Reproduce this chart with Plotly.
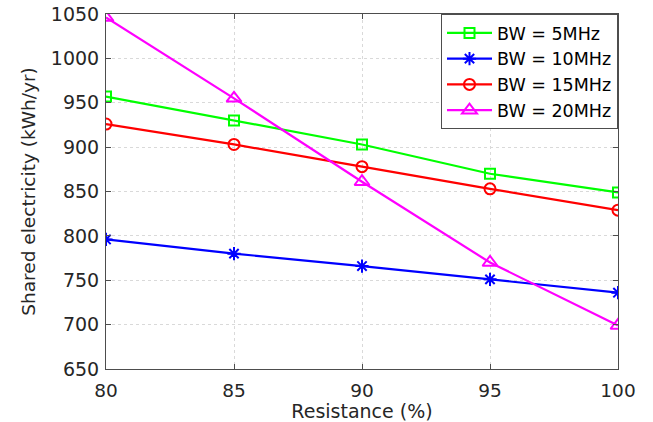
import plotly.graph_objects as go

resistance = [80, 85, 90, 95, 100]
bw5 = [957, 930, 903, 870, 849]
bw10 = [796, 780, 766, 751, 736]
bw15 = [926, 903, 878, 853, 829]
bw20 = [1046, 955, 861, 770, 699]
names = ["BW = 5MHz", "BW = 10MHz", "BW = 15MHz", "BW = 20MHz"]
colors = ["#00ff00", "#0000ff", "#ff0000", "#ff00ff"]
symbols = ["square-open", "asterisk-open", "circle-open", "triangle-up-open"]
marker_sizes = [10, 11, 11, 13]
x_ticks = [80, 85, 90, 95, 100]
y_ticks = [650, 700, 750, 800, 850, 900, 950, 1000, 1050]

fig = go.Figure()
for name, vals, c, s, ms in zip(names, [bw5, bw10, bw15, bw20], colors, symbols, marker_sizes):
    fig.add_trace(go.Scatter(
        x=resistance, y=vals, name=name, mode="lines+markers",
        line=dict(color=c, width=2.2),
        marker=dict(symbol=s, size=ms, color=c, line=dict(color=c, width=2)),
    ))

axis_common = dict(
    showline=True, linecolor="#4d4d4d", linewidth=1, mirror="ticks",
    ticks="inside", ticklen=5, tickcolor="#4d4d4d",
    showgrid=True, gridcolor="#d9d9d9", griddash="dot", gridwidth=1,
    zeroline=False,
    automargin=False,
)
fig.update_xaxes(range=[80, 100], tickvals=x_ticks, ticklabelstandoff=5,
                 tickfont=dict(size=18.5, color="#262626"),
                 title=dict(text="Resistance (%)", font=dict(size=19, color="#262626"), standoff=1),
                 **axis_common)
fig.update_yaxes(range=[650, 1050], tickvals=y_ticks, ticklabelstandoff=2,
                 tickfont=dict(size=19, color="#262626"),
                 title=dict(text="Shared electricity (kWh/yr)", font=dict(size=18.5, color="#262626"), standoff=10),
                 **axis_common)

fig.update_layout(
    width=653, height=422,
    margin=dict(l=106, r=35, t=14, b=53),
    plot_bgcolor="white", paper_bgcolor="white",
    font=dict(family="DejaVu Sans, Arial, sans-serif", color="#262626"),
    legend=dict(x=1, y=1, xanchor="right", yanchor="top",
                bgcolor="white", bordercolor="#4d4d4d", borderwidth=1,
                font=dict(size=17.5, color="#000000"), tracegroupgap=0,
                itemwidth=45),
    showlegend=True,
)

fig.write_html("out.html", config={"displayModeBar": False},
               post_script="document.body.style.margin='0';")
